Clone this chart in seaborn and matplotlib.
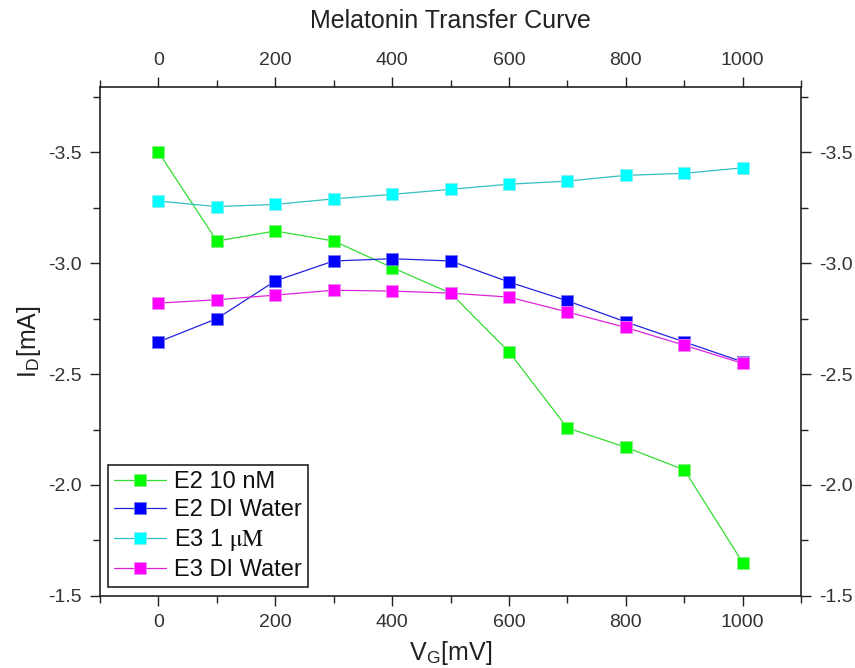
import numpy as np
import pandas as pd
import matplotlib
matplotlib.use("Agg")
import matplotlib.pyplot as plt
from matplotlib.ticker import MultipleLocator, FormatStrFormatter
import seaborn as sns

# Gate voltage sweep (mV)
vg = [0, 100, 200, 300, 400, 500, 600, 700, 800, 900, 1000]

# Drain current (mA) per electrode / solution
e2_10nm = [-3.50, -3.10, -3.145, -3.10, -2.98, -2.865, -2.60, -2.257, -2.17, -2.068, -1.65]
e2_di = [-2.645, -2.75, -2.92, -3.01, -3.02, -3.01, -2.915, -2.83, -2.735, -2.645, -2.555]
e3_1um = [-3.28, -3.255, -3.265, -3.29, -3.31, -3.333, -3.356, -3.37, -3.396, -3.405, -3.43]
e3_di = [-2.82, -2.835, -2.856, -2.878, -2.874, -2.865, -2.847, -2.78, -2.71, -2.63, -2.548]

series_names = ["E2 10 nM", "E2 DI Water", "E3 1 $\\mathrm{\\mu M}$", "E3 DI Water"]
series_values = [e2_10nm, e2_di, e3_1um, e3_di]
face_colors = ["#00FF00", "#0000FF", "#00FFFF", "#FF00FF"]
line_colors = ["#33DD33", "#2222DD", "#33BFBF", "#DD22DD"]
edge_colors = ["#88EE88", "#7777EE", "#88EEEE", "#EE88EE"]

sns.set_theme(style="ticks")
plt.rcParams["font.family"] = ["Liberation Sans", "DejaVu Sans"]
plt.rcParams["mathtext.fontset"] = "stix"
plt.rcParams["axes.unicode_minus"] = False

fig = plt.figure(figsize=(8.55, 6.68), dpi=100)
ax = fig.add_axes([0.117, 0.108, 0.820, 0.762])

for name, vals, fc, lc, ec in zip(series_names, series_values, face_colors, line_colors, edge_colors):
    df = pd.DataFrame({"VG": vg, "ID": vals})
    sns.lineplot(data=df, x="VG", y="ID", ax=ax, color=lc, linewidth=0.9,
                 marker="s", markersize=9, markerfacecolor=fc,
                 markeredgecolor=ec, markeredgewidth=0.6, label=name, sort=False)

ax.set_xlim(-100, 1100)
ax.set_ylim(-1.5, -3.795)

ax.xaxis.set_major_locator(MultipleLocator(200))
ax.xaxis.set_minor_locator(MultipleLocator(100))
ax.yaxis.set_major_locator(MultipleLocator(0.5))
ax.yaxis.set_minor_locator(MultipleLocator(0.25))
ax.yaxis.set_major_formatter(FormatStrFormatter("%.1f"))

ax.tick_params(which="both", direction="out", top=True, right=True,
               labeltop=True, labelright=True, color="#222222",
               labelcolor="#333333", labelsize=14, width=1.0)
ax.tick_params(which="major", length=7, pad=6)
ax.tick_params(which="minor", length=5)

for sp in ax.spines.values():
    sp.set_visible(True)
    sp.set_color("#222222")
    sp.set_linewidth(1.2)

ax.set_xlabel("V$_\\mathregular{G}$[mV]", fontsize=18, color="#222222", labelpad=6)
ax.set_ylabel("I$_\\mathregular{D}$[mA]", fontsize=18, color="#222222", labelpad=4)
ax.set_title("Melatonin Transfer Curve", fontsize=18, color="#222222", pad=17)

leg = ax.legend(loc="lower left", bbox_to_anchor=(0.008, 0.012), fontsize=17,
                frameon=True, fancybox=False, framealpha=1, edgecolor="#222222",
                handlelength=2.2, handletextpad=0.35, labelspacing=0.26,
                borderpad=0.25, borderaxespad=0.1)
leg.get_frame().set_linewidth(1.2)
for t in leg.get_texts():
    t.set_color("#111111")

fig.savefig("out.png", dpi=100)
